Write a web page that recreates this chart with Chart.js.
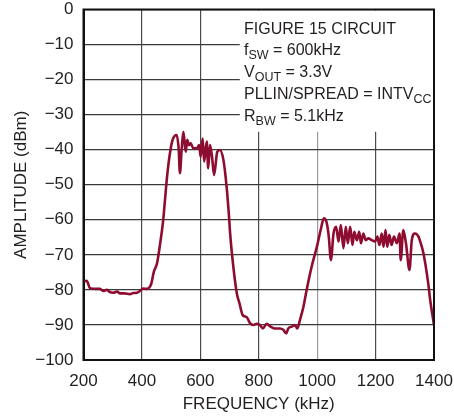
<!DOCTYPE html>
<html>
<head>
<meta charset="utf-8">
<script src="https://cdn.jsdelivr.net/npm/chart.js@4/dist/chart.umd.min.js"></script>
<style>
  html, body { margin: 0; padding: 0; background: #fff; }
  #wrap { width: 454px; height: 419px; }
</style>
</head>
<body>
<div id="wrap"><canvas id="spectrum" width="454" height="419"></canvas></div>
<script>
// frequency (kHz) and amplitude (dBm)
const freqs = [200, 211, 222, 240, 256, 267, 280, 290, 301, 315, 325, 340, 359, 370, 383, 393, 404, 417, 431, 441,
  452, 462, 473, 479, 487, 496, 505, 519, 526, 530, 536, 542, 550, 555, 561, 567, 576, 588, 596, 601,
  608, 613, 622, 627, 633, 640, 647, 658, 667, 679, 690, 699, 702, 713, 725, 734, 745, 759, 770, 782,
  793, 804, 814, 827, 841, 856, 873, 884, 894, 901, 913, 924, 932, 941, 953, 964, 981, 999, 1012, 1023,
  1033, 1040, 1047, 1056, 1065, 1073, 1081, 1090, 1098, 1105, 1113, 1121, 1127, 1136, 1144, 1150, 1158, 1166, 1175, 1187,
  1198, 1206, 1213, 1221, 1227, 1234, 1240, 1247, 1255, 1263, 1273, 1282, 1286, 1295, 1304, 1316, 1324, 1335, 1347, 1352,
  1364, 1380, 1387, 1400];
const amplitude = [-77.6, -77.4, -79.5, -79.7, -79.7, -80.3, -80.0, -80.6, -80.8, -80.5, -81.0, -81.0, -81.2, -80.9, -80.8, -80.3, -79.6, -79.7, -78.5, -74.8,
  -72.3, -67, -60, -54.3, -47, -41, -37.2, -35.8, -40, -46.7, -40, -34.9, -40.6, -37.2, -38.7, -38.2, -39.6, -39.6, -38.7, -42,
  -36.8, -43.4, -37.7, -45.3, -38.7, -42, -47.2, -40.6, -40.1, -42.9, -50.6, -60, -63.9, -73.4, -81, -83.8, -87.2, -87.8, -89.5, -90,
  -89.7, -90, -91, -89.7, -90.5, -91, -91, -91.4, -92.4, -91, -90.5, -90, -91, -88.6, -84.8, -80, -73.4, -67.7, -62.9, -59.6,
  -61, -65, -71.5, -63.9, -62, -66.2, -61.5, -68.1, -62, -66.7, -62, -67.2, -63.4, -65.8, -63.4, -66.7, -63.9, -65.8, -65.3, -65.8,
  -66.2, -64.8, -67.2, -63.9, -67.7, -62.9, -67.7, -64.3, -67.2, -64.8, -66.7, -63.9, -71.5, -62.9, -66.7, -74.3, -65.8, -63.9, -64.8, -66,
  -69.6, -78, -82.9, -90];

const xTicks = [200, 400, 600, 800, 1000, 1200, 1400];
const yTicks = [0, -10, -20, -30, -40, -50, -60, -70, -80, -90, -100];

// note block: [main text, subscript, rest]
const noteLines = [
  ['FIGURE 15 CIRCUIT', '', ''],
  ['f', 'SW', ' = 600kHz'],
  ['V', 'OUT', ' = 3.3V'],
  ['PLLIN/SPREAD = INTV', 'CC', ''],
  ['R', 'BW', ' = 5.1kHz']
];

const FONT = "'Liberation Sans', Arial, sans-serif";
const TEXT = '#231f20';

const points = freqs.map((f, i) => ({ x: f, y: amplitude[i] }));

// white box under the note, the frame, then the note text
const notePlugin = {
  id: 'note',
  beforeDatasetsDraw(chart) {
    const { ctx, scales: { x, y } } = chart;
    const left = x.getPixelForValue(735), right = x.getPixelForValue(1400);
    const top = y.getPixelForValue(0), bottom = y.getPixelForValue(-34.6);
    ctx.save();
    ctx.fillStyle = '#fff';
    ctx.fillRect(left, top + 1, right - left - 1, bottom - top);
    ctx.restore();
  },
  afterDraw(chart) {
    const ctx = chart.ctx;
    const a = chart.chartArea;
    ctx.save();
    ctx.strokeStyle = '#111';
    ctx.lineWidth = 2;
    ctx.strokeRect(a.left, a.top, a.right - a.left, a.bottom - a.top);

    ctx.fillStyle = TEXT;
    ctx.textBaseline = 'alphabetic';
    let base = 33.5;
    noteLines.forEach(([main, sub, rest]) => {
      let px = 244;
      ctx.font = '16px ' + FONT;
      ctx.fillText(main, px, base);
      px += ctx.measureText(main).width;
      if (sub) {
        ctx.font = '12.5px ' + FONT;
        ctx.fillText(sub, px, base + 4);
        px += ctx.measureText(sub).width;
      }
      if (rest) {
        ctx.font = '16px ' + FONT;
        ctx.fillText(rest, px, base);
      }
      base += 21.8;
    });
    ctx.restore();
  }
};

const ctx = document.getElementById('spectrum').getContext('2d');
new Chart(ctx, {
  type: 'line',
  data: {
    datasets: [{
      data: points,
      borderColor: '#8e0c30',
      borderWidth: 2.6,
      pointRadius: 0,
      fill: false,
      cubicInterpolationMode: 'monotone'
    }]
  },
  options: {
    responsive: false,
    animation: false,
    layout: { padding: { top: 9.5, right: 20, left: 0, bottom: 0 } },
    plugins: { legend: { display: false }, tooltip: { enabled: false } },
    scales: {
      x: {
        type: 'linear',
        min: 200,
        max: 1400,
        afterBuildTicks: (s) => { s.ticks = xTicks.map(v => ({ value: v })); },
        afterFit: (s) => { s.height = 59; s.paddingLeft = 0; s.paddingRight = 0; },
        ticks: {
          color: TEXT, font: { family: FONT, size: 17 }, padding: 11, maxRotation: 0,
          callback: (v) => String(v)
        },
        grid: {
          drawTicks: false,
          color: (c) => c.tick && c.tick.value === 1000 ? '#9a9a9a' : '#4a4a4a',
          lineWidth: 1.2
        },
        border: { color: '#111', width: 2 },
        title: { display: true, text: 'FREQUENCY (kHz)', color: TEXT, font: { family: FONT, size: 17 }, padding: { top: 0 } }
      },
      y: {
        min: -100,
        max: 0,
        afterBuildTicks: (s) => { s.ticks = yTicks.map(v => ({ value: v })); },
        afterFit: (s) => { s.width = 83.5; s.paddingTop = 0; s.paddingBottom = 0; },
        ticks: {
          color: TEXT, font: { family: FONT, size: 17 }, padding: 10,
          callback: (v) => v < 0 ? '\u2212' + Math.abs(v) : String(v)
        },
        grid: { drawTicks: false, color: '#3a3a3a', lineWidth: 1.2 },
        border: { color: '#111', width: 2 },
        title: { display: true, text: 'AMPLITUDE (dBm)', color: TEXT, font: { family: FONT, size: 17 }, padding: { top: 11, bottom: 0 } }
      }
    }
  },
  plugins: [notePlugin]
});
</script>
</body>
</html>
